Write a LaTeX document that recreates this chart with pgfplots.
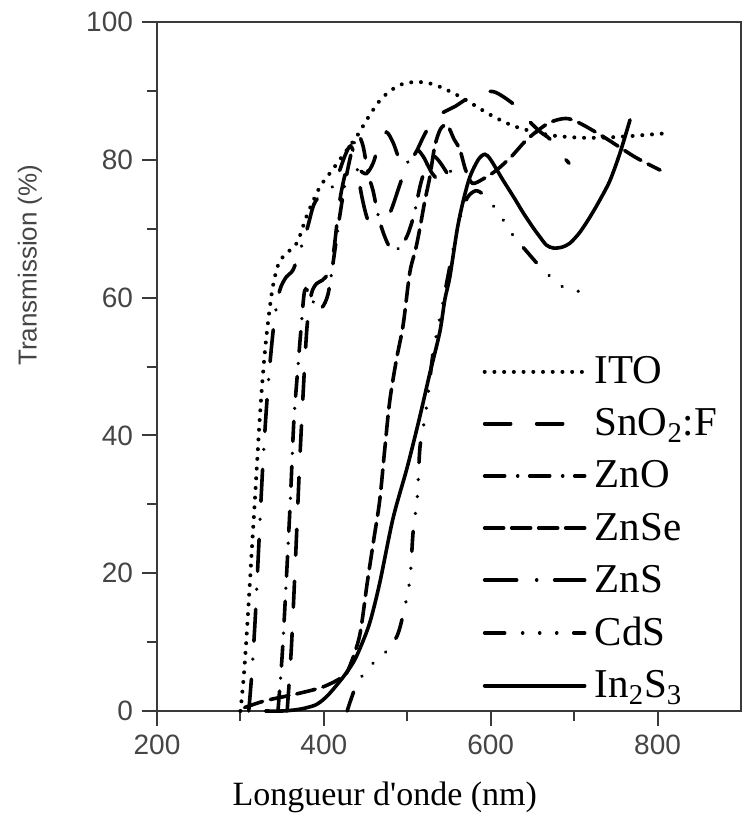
\documentclass[border=0pt]{standalone}
\usepackage{pgfplots}
\pgfplotsset{compat=1.18}
\usetikzlibrary{calc}
\usepackage{fontspec}
\setmainfont{Liberation Serif}
\setsansfont{Liberation Sans}
\definecolor{axgray}{HTML}{3A3A3A}
\definecolor{lblgray}{HTML}{454545}
\begin{document}
\begin{tikzpicture}
\begin{axis}[
  name=ax,
  scale only axis,
  width=292pt, height=344.5pt,
  xmin=200, xmax=900, ymin=0, ymax=100,
  clip=false,
  axis lines=box,
  xtick={200,400,600,800},
  minor xtick={300,500,700},
  ytick={0,20,40,60,80,100},
  minor ytick={10,30,50,70,90},
  tick align=outside,
  xtick pos=bottom, ytick pos=left,
  major tick length=7.5pt,
  minor tick length=5pt,
  axis line style={axgray, line width=1pt},
  every tick/.append style={axgray, line width=1pt},
  /pgf/number format/assume math mode=true,
  tick label style={font=\sffamily\fontsize{14}{16}\selectfont, text=lblgray},
  xticklabel style={yshift=-1pt},
  yticklabel style={xshift=-1pt},
  xlabel={Longueur d\textquotesingle onde (nm)},
  xlabel style={font=\fontsize{17}{20}\selectfont, at={(axis description cs:0.39,-0.125)}, anchor=center},
  ylabel={Transmission (\%)},
  ylabel style={font=\sffamily\fontsize{13}{15}\selectfont, at={(axis description cs:-0.2175,0.647)}, anchor=center, text=lblgray},
  every axis plot/.append style={line width=1.8pt, black, line cap=round},
  legend image code/.code={\draw[#1] (0pt,0pt) -- (50pt,0pt);},
  legend style={at={(axis description cs:0.557,0.518)}, anchor=north west, draw=none, fill=none,
    font=\fontsize{20.5}{24}\selectfont, row sep=9pt, inner sep=0pt,
    nodes={inner xsep=4pt, inner ysep=1pt}},
  legend cell align=left,
]
% frame (top and right sides)
\addplot[forget plot, axgray, line width=1.2pt, solid, line cap=rect] coordinates {(200,100) (900,100) (900,0)};
% ITO
\addplot[smooth, tension=0.5, dash pattern=on 0.01pt off 4.85pt, line width=2pt] coordinates {
(300,0)(304,5)(308,12)(313,22)(318,32)(324,44)(330,53)(338,61)(346,65)(356,66.5)(368,68)(380,72)(395,76)(410,78.5)(425,81)(440,83.5)(455,86.5)(470,89)(490,90.8)(510,91.3)(530,91)(550,90)(570,88.7)(600,86.5)(630,84.8)(670,83.6)(710,83.2)(750,83.3)(805,83.8)};
\addlegendentry{ITO}
% SnO2:F
\addplot[smooth, tension=0.5, dash pattern=on 13pt off 13pt] coordinates {
(356,0)(361,9)(366,22)(371,36)(376,48)(380,56)(385,60.5)(391,62)(398,62.5)(405,63.5)(411,66)(419,74)(427,78.5)(435,79.5)(443,78.5)(451,78)(459,79.5)(467,82.5)(475,84)(483,82.5)(491,80)(500,79.5)(510,81)(520,83.5)(532,86)(545,87)(558,87.8)(572,88.9)(588,89.7)(603,89.9)(617,89)(633,87.5)(647,85.5)(660,84)(671,83)(683,81)(694,79.5)};
\addlegendentry{SnO\textsubscript{2}:F}
% ZnO
\addplot[smooth, tension=0.5, dash pattern=on 10pt off 6.5pt on 0.01pt off 6pt] coordinates {
(345,0)(350,8)(355,19)(360,31)(364,42)(369,50)(373,56)(377,61)(383,60.5)(390,58.8)(398,58.6)(405,60.5)(411,65)(418,71)(426,77)(434,81.5)(441,83.5)(447,82)(453,78)(459,75.5)(465,72)(471,69.5)(478,67.5)(485,66.8)(492,67.5)(500,69)(508,72)(516,76.5)(524,79.5)(532,80.5)(540,79.5)(548,78)};
\addlegendentry{ZnO}
% ZnSe
\addplot[smooth, tension=0.5, dash pattern=on 9.5pt off 4pt] coordinates {
(305,0.5)(330,1.5)(368,2.5)(399,3.5)(423,5)(431,6.5)(443,11)(452,18.6)(460,25)(467,30.6)(473,38)(479,45)(487,51)(495,56)(503,63.6)(510,67)(515,70)(521,74)(527,77.5)(533,82)(540,84.5)(548,85)(556,83)(563,81.5)(570,78.5)(578,76.6)(592,77.3)(607,78.5)(625,80.5)(644,83)(669,85.3)(690,86)(707,85.3)(737,83.2)(773,80.4)(803,78.5)};
\addlegendentry{ZnSe}
% ZnS
\addplot[smooth, tension=0.5, dash pattern=on 16pt off 10pt on 0.01pt off 9pt] coordinates {
(310,0)(314,6)(318,14)(322,24)(327,36)(333,47)(340,56)(347,61)(355,63)(363,64)(372,67)(380,70)(388,73.5)(397,75)(407,75.5)(416,77.5)(425,80.5)(432,82)(438,80)(445,75)(452,71.5)(460,70)(470,70.5)(480,72.5)(490,76)(500,79.5)(510,81.5)(519,80.5)(530,78)(540,77)(550,78)(560,80)};
\addlegendentry{ZnS}
% CdS
\addplot[smooth, tension=0.5, dash pattern=on 10pt off 9pt on 0.01pt off 8.5pt on 0.01pt off 8.5pt on 0.01pt off 8.5pt] coordinates {
(428,0)(432,1.5)(440,4)(455,6.5)(470,8)(487,10.7)(495,14)(503,19)(507,26)(512,31)(515,38)(519,41)(524,45)(531,52)(539,57)(547,62)(555,67)(563,71.5)(572,74.5)(582,75.5)(591,75)(600,73.8)(611,72)(627,69)(641,67)(663,64)(687,61.5)(700,61)(715,60.8)};
\addlegendentry{CdS}
% In2S3
\addplot[smooth, tension=0.5] coordinates {
(330,0)(350,0)(368,0.2)(380,0.5)(392,1)(405,2.3)(423,4.9)(435,7)(443,9)(455,12.8)(467,18.6)(483,28)(500,35.4)(515,42.7)(527,49)(539,55)(545,59.7)(551,63)(560,70)(567,74)(575,77.5)(585,80)(593,80.8)(600,80)(615,77)(628,74.5)(639,72.3)(650,70.3)(659,68.8)(667,67.6)(675,67.2)(685,67.3)(695,67.9)(707,69.5)(719,71.7)(731,74.2)(743,77)(755,81)(767,85.8)};
\addlegendentry{In\textsubscript{2}S\textsubscript{3}}
\end{axis}
\path (ax.south west) ++(-78.5pt,-62.5pt) rectangle ($(ax.south west)+(294pt,355.5pt)$);
\end{tikzpicture}
\end{document}
